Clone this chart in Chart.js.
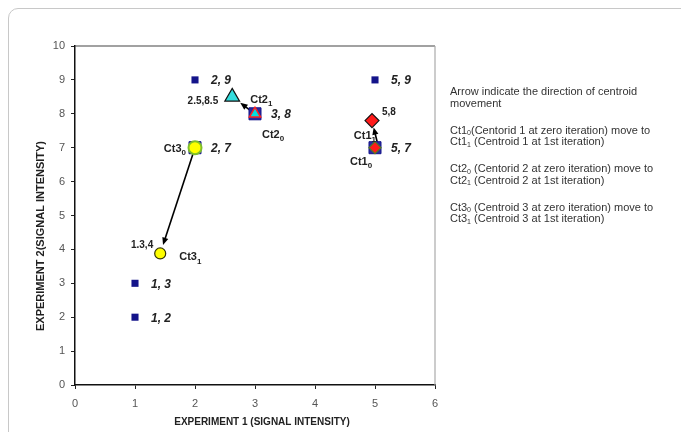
<!DOCTYPE html>
<html>
<head>
<meta charset="utf-8">
<script src="https://cdn.jsdelivr.net/npm/chart.js@4"></script>
<style>
  body { margin: 0; background: #fff; }
  #wrap { position: relative; width: 681px; height: 432px; overflow: hidden; }
  #card { position: absolute; left: 8px; top: 8px; width: 720px; height: 480px; border: 1px solid #c8c8c8; border-radius: 10px; }
  #chartBox { position: absolute; left: 0; top: 0; width: 681px; height: 432px; }
</style>
</head>
<body>
<div id="wrap">
  <div id="card"></div>
  <div id="chartBox"><canvas id="chart"></canvas></div>
</div>
<script>
// data points
const smallX = [1, 1, 2, 5];
const smallY = [2, 3, 9, 9];
const bigX = [2, 3, 5];
const bigY = [7, 8, 7];

// centroids: index 0 = Ct1, 1 = Ct2, 2 = Ct3
const ct0X = [5, 3, 2];
const ct0Y = [7, 8, 7];
const ct1X = [4.95, 2.62, 1.42];
const ct1Y = [7.8, 8.5, 3.88];
const ct1Text = ['5,8', '2.5,8.5', '1.3,4'];

const xTicks = [0, 1, 2, 3, 4, 5, 6];
const yTicks = [0, 1, 2, 3, 4, 5, 6, 7, 8, 9, 10];

const noteLines = [
    ['Arrow indicate the direction of centroid'],
    ['movement'],
    null,
    ['Ct1', '0', '(Centorid 1 at zero iteration) move to'],
    ['Ct1', '1', ' (Centroid 1 at 1st iteration)'],
    null,
    ['Ct2', '0', ' (Centorid 2 at zero iteration) move to'],
    ['Ct2', '1', ' (Centroid 2 at 1st iteration)'],
    null,
    ['Ct3', '0', ' (Centroid 3 at zero iteration) move to'],
    ['Ct3', '1', ' (Centroid 3 at 1st iteration)']
];

const toPts = (xs, ys) => xs.map((x, i) => ({ x: x, y: ys[i] }));

function drawSub(ctx, base, sub, x, y, align, size) {
    ctx.font = 'bold ' + size + 'px "Liberation Sans", Arial';
    const w1 = ctx.measureText(base).width;
    ctx.font = 'bold ' + Math.round(size * 0.7) + 'px "Liberation Sans", Arial';
    const w2 = ctx.measureText(sub).width;
    let left = align === 'right' ? x - w1 - w2 : x;
    ctx.textAlign = 'left';
    ctx.textBaseline = 'middle';
    ctx.font = 'bold ' + size + 'px "Liberation Sans", Arial';
    ctx.fillText(base, left, y);
    ctx.font = 'bold ' + Math.round(size * 0.7) + 'px "Liberation Sans", Arial';
    ctx.fillText(sub, left + w1, y + size * 0.35);
}

function arrow(ctx, x0, y0, x1, y1, cut) {
    const a = Math.atan2(y1 - y0, x1 - x0);
    const tx = x1 - Math.cos(a) * cut, ty = y1 - Math.sin(a) * cut;
    ctx.strokeStyle = '#000';
    ctx.fillStyle = '#000';
    ctx.lineWidth = 1.6;
    ctx.beginPath();
    ctx.moveTo(x0, y0);
    ctx.lineTo(tx - Math.cos(a) * 5, ty - Math.sin(a) * 5);
    ctx.stroke();
    ctx.beginPath();
    ctx.moveTo(tx, ty);
    ctx.lineTo(tx - Math.cos(a - 0.4) * 8, ty - Math.sin(a - 0.4) * 8);
    ctx.lineTo(tx - Math.cos(a + 0.4) * 8, ty - Math.sin(a + 0.4) * 8);
    ctx.closePath();
    ctx.fill();
}

const decor = {
    id: 'decor',
    beforeDatasetsDraw(chart) {
        const ctx = chart.ctx, xs = chart.scales.x, ys = chart.scales.y;
        const a = chart.chartArea;
        ctx.save();
        // top and right frame
        ctx.lineWidth = 1.2;
        ctx.strokeStyle = '#444';
        ctx.beginPath();
        ctx.moveTo(a.left, a.top);
        ctx.lineTo(a.right, a.top);
        ctx.stroke();
        ctx.strokeStyle = '#aaa';
        ctx.beginPath();
        ctx.moveTo(a.right, a.top);
        ctx.lineTo(a.right, a.bottom);
        ctx.stroke();
        // arrows
        const cuts = [7, 10, 9];
        const starts = [[5.08, 6.85], [ct0X[1], ct0Y[1]], [ct0X[2], ct0Y[2]]];
        for (let i = 0; i < 3; i++) {
            arrow(ctx,
                xs.getPixelForValue(starts[i][0]), ys.getPixelForValue(starts[i][1]),
                xs.getPixelForValue(ct1X[i]), ys.getPixelForValue(ct1Y[i]), cuts[i]);
        }
        ctx.restore();
    },
    afterDatasetsDraw(chart) {
        const ctx = chart.ctx, xs = chart.scales.x, ys = chart.scales.y;
        const px = v => xs.getPixelForValue(v), py = v => ys.getPixelForValue(v);
        ctx.save();
        ctx.fillStyle = '#222';
        ctx.textBaseline = 'middle';
        ctx.textAlign = 'left';
        // coordinate labels of the data points
        ctx.font = 'bold italic 12px "Liberation Sans", Arial';
        const allX = smallX.concat(bigX), allY = smallY.concat(bigY);
        allX.forEach((x, i) => {
            ctx.fillText(x + ', ' + allY[i], px(x) + 16, py(allY[i]) + 1);
        });
        // centroid coordinate labels
        ctx.font = 'bold 10px "Liberation Sans", Arial';
        ctx.textAlign = 'left';
        ctx.fillText(ct1Text[0], px(ct1X[0]) + 10, py(ct1Y[0]) - 8);
        ctx.textAlign = 'right';
        ctx.fillText(ct1Text[1], px(ct1X[1]) - 14, py(ct1Y[1]) + 4);
        ctx.fillText(ct1Text[2], px(ct1X[2]) - 7, py(ct1Y[2]) - 8);
        // centroid names
        drawSub(ctx, 'Ct1', '1', px(ct1X[0]) + 4, py(ct1Y[0]) + 15, 'right', 11);
        drawSub(ctx, 'Ct1', '0', px(ct0X[0]) - 25, py(ct0Y[0]) + 14, 'left', 11);
        drawSub(ctx, 'Ct2', '1', px(ct1X[1]) + 18, py(ct1Y[1]) + 3, 'left', 11);
        drawSub(ctx, 'Ct2', '0', px(ct0X[1]) + 7, py(ct0Y[1]) + 21, 'left', 11);
        drawSub(ctx, 'Ct3', '0', px(ct0X[2]) - 9, py(ct0Y[2]) + 1, 'right', 11);
        drawSub(ctx, 'Ct3', '1', px(ct1X[2]) + 19, py(ct1Y[2]) + 4, 'left', 11);
        // axis titles
        ctx.fillStyle = '#222';
        ctx.font = 'bold 10px "Liberation Sans", Arial';
        ctx.textAlign = 'center';
        ctx.fillText('EXPERIMENT 1 (SIGNAL INTENSITY)', 262, 422);
        ctx.translate(41, 236);
        ctx.rotate(-Math.PI / 2);
        ctx.font = 'bold 11px "Liberation Sans", Arial';
        ctx.fillText('EXPERIMENT 2(SIGNAL INTENSITY)', 0, 0);
        ctx.restore();
        // note text on the right
        ctx.save();
        ctx.fillStyle = '#333';
        ctx.textBaseline = 'middle';
        ctx.textAlign = 'left';
        let y = 92;
        noteLines.forEach(line => {
            if (!line) { y += 15.5; return; }
            let x = 450;
            ctx.font = '11px "Liberation Sans", Arial';
            ctx.fillText(line[0], x, y);
            if (line.length > 1) {
                x += ctx.measureText(line[0]).width;
                ctx.font = '7px "Liberation Sans", Arial';
                ctx.fillText(line[1], x, y + 3);
                x += ctx.measureText(line[1]).width;
                ctx.font = '11px "Liberation Sans", Arial';
                ctx.fillText(line[2], x, y);
            }
            y += 11.5;
        });
        ctx.restore();
    }
};

// lower order is drawn on top
new Chart(document.getElementById('chart'), {
    type: 'scatter',
    data: {
        datasets: [{
            data: toPts(smallX, smallY), order: 9,
            pointStyle: 'rect', pointRadius: 5,
            backgroundColor: '#14148a', borderColor: '#14148a', borderWidth: 0
        }, {
            data: toPts(bigX, bigY), order: 8,
            pointStyle: 'rect', pointRadius: 8.5,
            backgroundColor: '#2a2aa0', borderColor: '#14148a', borderWidth: 1
        }, {
            // Ct3 zero iteration
            data: [{ x: ct0X[2], y: ct0Y[2] }], order: 1,
            pointStyle: 'circle', pointRadius: 6.5,
            backgroundColor: '#ffff00', borderColor: '#7fbf2a', borderWidth: 2
        }, {
            // Ct3 1st iteration
            data: [{ x: ct1X[2], y: ct1Y[2] }], order: 1,
            pointStyle: 'circle', pointRadius: 5.5,
            backgroundColor: '#ffff00', borderColor: '#333300', borderWidth: 1.2
        }, {
            // Ct2 zero iteration
            data: [{ x: ct0X[1], y: ct0Y[1] }], order: 1,
            pointStyle: 'triangle', pointRadius: 6.5,
            backgroundColor: '#00e0e0', borderColor: '#ff2020', borderWidth: 1.5
        }, {
            // Ct2 1st iteration
            data: [{ x: ct1X[1], y: ct1Y[1] }], order: 1,
            pointStyle: 'triangle', pointRadius: 8.5,
            backgroundColor: '#33dddd', borderColor: '#111', borderWidth: 1.2
        }, {
            // Ct1 zero iteration
            data: [{ x: ct0X[0], y: ct0Y[0] }], order: 1,
            pointStyle: 'rectRot', pointRadius: 6,
            backgroundColor: '#ff1a1a', borderColor: '#557a20', borderWidth: 1.2
        }, {
            // Ct1 1st iteration
            data: [{ x: ct1X[0], y: ct1Y[0] }], order: 1,
            pointStyle: 'rectRot', pointRadius: 7,
            backgroundColor: '#ff1a1a', borderColor: '#111', borderWidth: 1.2
        }]
    },
    options: {
        responsive: true,
        maintainAspectRatio: false,
        animation: false,
        events: [],
        layout: { padding: { left: 0, top: 46, right: 246, bottom: 0 } },
        plugins: { legend: { display: false }, tooltip: { enabled: false } },
        scales: {
            x: {
                type: 'linear', min: 0, max: 6,
                afterFit: s => { s.height = 47; },
                afterBuildTicks: s => { s.ticks = xTicks.map(v => ({ value: v })); },
                grid: { drawOnChartArea: false, drawTicks: true, tickLength: 4, color: '#222' },
                border: { display: true, color: '#111', width: 1.5 },
                ticks: { padding: 8, color: '#555', font: { family: '"Liberation Sans", Arial', size: 11 } }
            },
            y: {
                type: 'linear', min: 0, max: 10,
                afterFit: s => { s.width = 75; },
                afterBuildTicks: s => { s.ticks = yTicks.map(v => ({ value: v })); },
                grid: { drawOnChartArea: false, drawTicks: true, tickLength: 4, color: '#222' },
                border: { display: true, color: '#111', width: 1.5 },
                ticks: { padding: 6, color: '#555', font: { family: '"Liberation Sans", Arial', size: 11 } }
            }
        }
    },
    plugins: [decor]
});
</script>
</body>
</html>
